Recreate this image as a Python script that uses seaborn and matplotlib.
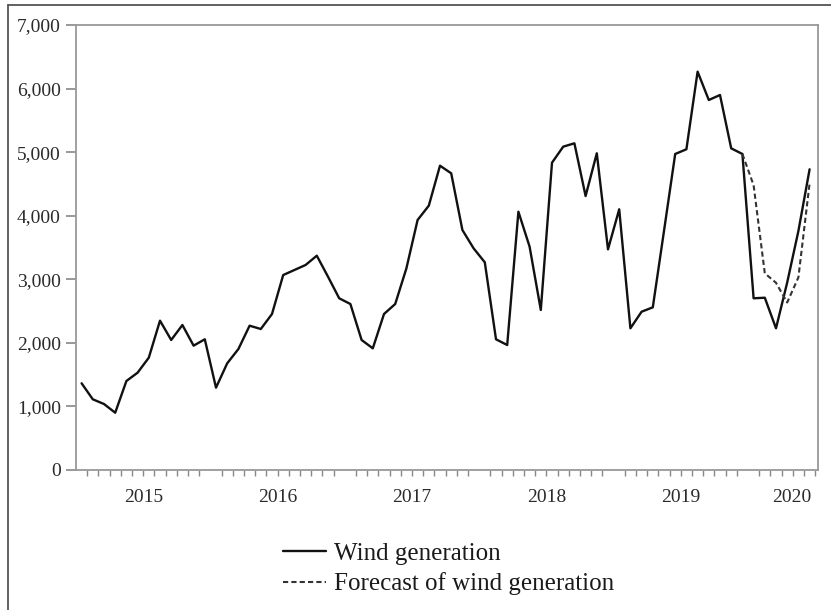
import numpy as np
import pandas as pd
import matplotlib
matplotlib.use("Agg")
import matplotlib.pyplot as plt
from matplotlib.lines import Line2D
from matplotlib.ticker import FuncFormatter, MultipleLocator
import seaborn as sns

# --- DATA (monthly, Jan 2015 - Jun 2020) ---
months = pd.date_range("2015-01-01", "2020-06-01", freq="MS")
wind_generation = [
    1364, 1112, 1038, 901, 1400, 1531, 1767, 2349, 2045, 2281, 1956, 2056,
    1295, 1678, 1903, 2270, 2218, 2454, 3067, 3146, 3225, 3371, 3041, 2701,
    2611, 2045, 1914, 2454, 2611, 3172, 3933, 4158, 4787, 4667, 3775, 3487,
    3267, 2056, 1966, 4063, 3513, 2517, 4834, 5086, 5139, 4310, 4982, 3471,
    4101, 2229, 2490, 2559, 3760, 4971, 5045, 6266, 5820, 5899, 5060, 4971,
    2701, 2710, 2229, 2950, 3760, 4730,
]
forecast_months = months[59:]
forecast_wind = [4971, 4480, 3094, 2945, 2635, 3030, 4510]
year_labels = ["2015", "2016", "2017", "2018", "2019", "2020"]
y_ticks = [0, 1000, 2000, 3000, 4000, 5000, 6000, 7000]

# month index, observations sit in the middle of each month slot
df = pd.DataFrame({"pos": np.arange(len(months)) + 0.5, "value": wind_generation})
df_fc = pd.DataFrame({"pos": np.arange(59, 59 + len(forecast_wind)) + 0.5,
                      "value": forecast_wind})

sns.set_style("white")
plt.rcParams["font.family"] = ["Liberation Serif", "DejaVu Serif"]

fig = plt.figure(figsize=(8.31, 6.10), dpi=100)
ax = fig.add_axes([76 / 831, 140 / 610, 742 / 831, 445 / 610])

sns.lineplot(data=df, x="pos", y="value", ax=ax, color="#111111", linewidth=1.7,
             label="Wind generation")
sns.lineplot(data=df_fc, x="pos", y="value", ax=ax, color="#333333", linewidth=1.5,
             linestyle=(0, (2.5, 1.5)), label="Forecast of wind generation")

ax.set_xlim(0, 66.25)
ax.set_ylim(0, 7000)
ax.set_yticks(y_ticks)
ax.yaxis.set_major_formatter(FuncFormatter(lambda v, p: f"{v:,.0f}"))
ax.set_xticks(np.arange(0, 66, 12))
ax.set_xticklabels([])
ax.xaxis.set_minor_locator(MultipleLocator(1))
ax.tick_params(axis="x", which="major", length=9, width=1.2, color="#888888", direction="out")
ax.tick_params(axis="x", which="minor", length=4, width=1.0, color="#888888", direction="out", bottom=True)
ax.tick_params(axis="y", length=7, width=1.2, color="#888888", direction="out", left=True,
               labelsize=14, labelcolor="#2a2a2a", pad=4)
ax.set_xlabel("")
ax.set_ylabel("")
for s in ax.spines.values():
    s.set_color("#999999")
    s.set_linewidth(1.3)

# year labels under each block of months
year_pos = [6, 18, 30, 42, 54, 63.9]
for xp, lab in zip(year_pos, year_labels):
    ax.text(xp, -0.061, lab, transform=ax.get_xaxis_transform(), ha="center", va="center",
            fontsize=14, color="#2a2a2a")

ax.get_legend().remove()
handles, labels = ax.get_legend_handles_labels()
fig.legend(handles, labels, loc="upper left", bbox_to_anchor=(260 / 831, 90 / 610),
           frameon=False, fontsize=18, handlelength=1.75, handletextpad=0.3,
           labelspacing=0.3, labelcolor="#1a1a1a")

# outer frame of the picture (left and top edges only)
fig.add_artist(Line2D([8 / 831, 8 / 831], [0, 605 / 610], transform=fig.transFigure,
                      color="#555555", linewidth=1.3))
fig.add_artist(Line2D([8 / 831, 1], [605 / 610, 605 / 610], transform=fig.transFigure,
                      color="#555555", linewidth=1.3))

fig.savefig("out.png", dpi=100)
